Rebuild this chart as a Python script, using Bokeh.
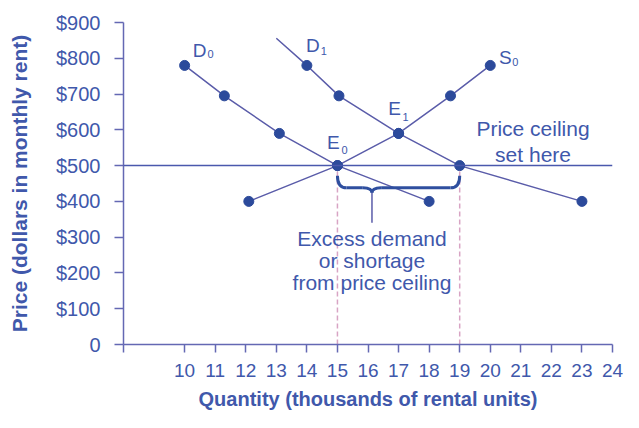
from bokeh.plotting import figure
from bokeh.models import Span, FixedTicker
from bokeh.core.properties import value
from bokeh.embed import file_html
from bokeh.resources import INLINE

# ---- data ----
d0_qty = [10, 11.3, 13.1, 15, 18]
d0_price = [780, 695, 590, 500, 400]
d1_qty = [14, 15.05, 17, 19, 23]
d1_price = [780, 695, 590, 500, 400]
d1_line_start_qty = [13.0]
d1_line_start_price = [856]
s0_qty = [12.1, 15, 17, 18.7, 20]
s0_price = [400, 500, 590, 695, 780]
ceiling_price = 500
shortage_qty = [15, 19]
brace_tip_qty = 16.13
x_ticks = [8] + list(range(10, 25))
y_ticks = [0, 100, 200, 300, 400, 500, 600, 700, 800, 900]
y_tick_labels = ["0", "$100", "$200", "$300", "$400", "$500", "$600", "$700", "$800", "$900"]

FONT = "Liberation Sans"
TEXT = "#4058ab"
LINE = "#5a5ca9"
AXIS = "#6468b3"
DOT = "#2c4a9b"
BRACE = "#2f4f9f"
DASH = "#d8a4c4"

p = figure(width=623, height=412, x_range=(8, 24), y_range=(0, 900),
           output_backend="svg", toolbar_location=None,
           min_border_left=123, min_border_right=11,
           min_border_top=22, min_border_bottom=66,
           background_fill_color="white", border_fill_color="white")
p.grid.visible = False
p.outline_line_color = None

# axes
p.xaxis.ticker = FixedTicker(ticks=x_ticks)
p.xaxis.major_label_overrides = {8: ""}
p.yaxis.ticker = FixedTicker(ticks=y_ticks)
p.yaxis.major_label_overrides = {t: l for t, l in zip(y_ticks, y_tick_labels)}
for ax in (p.xaxis, p.yaxis):
    ax.axis_line_color = AXIS
    ax.axis_line_width = 1.5
    ax.major_tick_line_color = AXIS
    ax.major_tick_line_width = 1.5
    ax.major_tick_in = 0
    ax.minor_tick_line_color = None
    ax.major_label_text_font = FONT
    ax.major_label_text_color = TEXT
    ax.axis_label_text_font = FONT
    ax.axis_label_text_font_style = "bold"
    ax.axis_label_text_color = TEXT
p.xaxis.major_label_text_font_size = "19px"
p.yaxis.major_label_text_font_size = "20px"
p.xaxis.axis_label_text_font_size = "20px"
p.yaxis.axis_label_text_font_size = "21px"
p.xaxis.major_tick_out = 8
p.yaxis.major_tick_out = 9
p.xaxis.major_label_standoff = 11
p.yaxis.major_label_standoff = 14
p.xaxis.axis_label = "Quantity (thousands of rental units)"
p.yaxis.axis_label = "Price (dollars in monthly rent)"
p.xaxis.axis_label_standoff = 8
p.yaxis.axis_label_standoff = 22

# dashed verticals at shortage ends
p.segment(x0=shortage_qty, y0=[0, 0], x1=shortage_qty,
          y1=[ceiling_price] * len(shortage_qty),
          line_color=DASH, line_width=1.5, line_dash="5 3")

# price ceiling line
p.add_layout(Span(location=ceiling_price, dimension="width",
                  line_color="#4a58ad", line_width=1.5))

# curves
p.line(d0_qty, d0_price, line_color=LINE, line_width=1.5)
p.line(d1_line_start_qty + d1_qty, d1_line_start_price + d1_price,
       line_color=LINE, line_width=1.5)
p.line(s0_qty, s0_price, line_color=LINE, line_width=1.5)

# points
p.scatter(d0_qty + d1_qty + s0_qty, d0_price + d1_price + s0_price,
          size=10, fill_color=DOT, line_color=DOT)

# brace under the ceiling line between the shortage ends
x0, x1 = shortage_qty
xt = brace_tip_qty
y_top = ceiling_price - 28
y_mid = ceiling_price - 62
y_tip = ceiling_price - 76
a = 0.3
bw = 3
p.quadratic(x0=[x0, xt - a, xt, x1 - a], y0=[y_top, y_mid, y_tip, y_mid],
            x1=[x0 + a, xt, xt + a, x1], y1=[y_mid, y_tip, y_mid, y_top],
            cx=[x0, xt, xt, x1], cy=[y_mid, y_mid, y_mid, y_mid],
            line_color=BRACE, line_width=bw)
p.segment(x0=[x0 + a, xt + a], y0=[y_mid, y_mid], x1=[xt - a, x1 - a], y1=[y_mid, y_mid],
          line_color=BRACE, line_width=bw)
p.segment(x0=[xt], y0=[y_tip], x1=[xt], y1=[ceiling_price - 160],
          line_color=LINE, line_width=1.5)

# curve / point labels
lab_x = [d0_qty[0], d1_qty[0], s0_qty[-1], 15, 17]
lab_y = [d0_price[0], d1_price[0], s0_price[-1], 500, 590]
p.text(x=lab_x, y=lab_y, text=["D", "D", "S", "E", "E"],
       x_offset=[15, 6, 15, -4, -4], y_offset=[-15, -20, -8, -23, -25],
       text_font=value(FONT), text_font_size=value("19px"), text_color=TEXT,
       text_align="center", text_baseline="middle")
p.text(x=lab_x, y=lab_y, text=["0", "1", "0", "0", "1"],
       x_offset=[26, 17, 25, 7, 7], y_offset=[-11, -14, -3, -16, -16],
       text_font=value(FONT), text_font_size=value("11px"), text_color=TEXT,
       text_align="center", text_baseline="middle")

# annotations
p.text(x=[xt] * 3, y=[ceiling_price] * 3,
       text=["Excess demand", "or shortage", "from price ceiling"],
       x_offset=[0, 0, 0], y_offset=[73, 95, 117],
       text_font=value(FONT), text_font_size=value("21px"), text_color=TEXT,
       text_align="center", text_baseline="alphabetic")
p.text(x=[21.4, 21.4], y=[ceiling_price] * 2,
       text=["Price ceiling", "set here"],
       y_offset=[-37, -11],
       text_font=value(FONT), text_font_size=value("21px"), text_color=TEXT,
       text_align="center", text_baseline="alphabetic")

open("out.html", "w").write(file_html(p, INLINE))
